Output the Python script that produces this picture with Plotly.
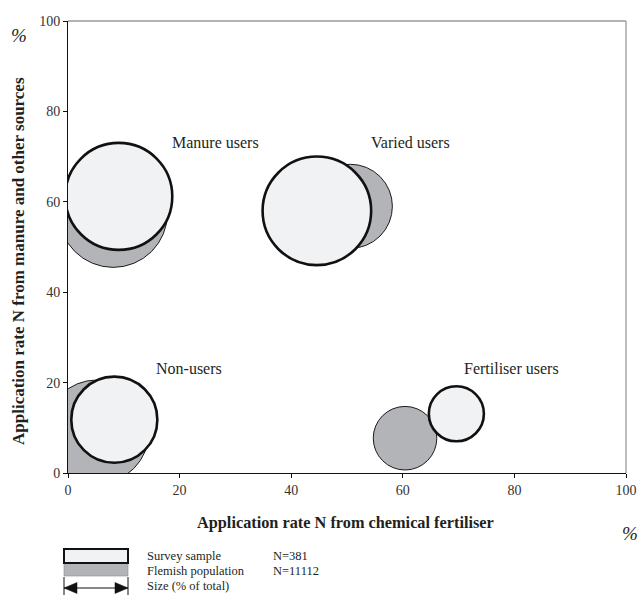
import plotly.graph_objects as go

# ---------------- data ----------------
groups = ["Manure users", "Varied users", "Non-users", "Fertiliser users"]

# Survey sample (N=381)
survey_x = [9.1, 44.6, 8.3, 69.6]      # % N from chemical fertiliser
survey_y = [61.2, 58.0, 11.8, 13.1]    # % N from manure and other sources
survey_pct = [34, 35, 22, 9]           # size (% of total)

# Flemish population (N=11112)
flemish_x = [8.1, 50.6, 5.2, 60.4]
flemish_y = [57.5, 59.0, 9.1, 7.7]
flemish_pct = [35, 21, 32, 12]

x_ticks = [0, 20, 40, 60, 80, 100]
y_ticks = [0, 20, 40, 60, 80, 100]

# label anchors for the group names (data coordinates)
label_x = [26.5, 61.3, 21.7, 79.4]
label_y = [73.2, 73.2, 23.2, 23.2]

# ---------------- layout helpers ----------------
# the page body margin is removed (post_script), figure fills the window
W, H = 638, 595
PL, PT, PW, PH = 68, 21, 558, 452          # plot area in screen pixels
L, T = PL, PT
R = W - L - PW
B = H - T - PH


def px(x):
    return (x - PL) / PW


def py(y):
    return (PT + PH - y) / PH


SERIF = "Liberation Serif, Times New Roman, serif"
TXT = "#231f20"
LIGHT = "#f1f2f4"
GRAY = "#b3b4b7"
SIZEREF = 0.00594

fig = go.Figure()

fig.add_trace(go.Scatter(
    x=flemish_x, y=flemish_y, mode="markers", name="Flemish population",
    marker=dict(size=flemish_pct, sizemode="area", sizeref=SIZEREF,
                color=GRAY, opacity=1, line=dict(color="#1a1a1a", width=1)),
    hoverinfo="x+y+text", text=groups, showlegend=False,
))
fig.add_trace(go.Scatter(
    x=survey_x, y=survey_y, mode="markers", name="Survey sample",
    marker=dict(size=survey_pct, sizemode="area", sizeref=SIZEREF,
                color=LIGHT, opacity=1, line=dict(color="#111111", width=2.6)),
    hoverinfo="x+y+text", text=groups, showlegend=False,
))

annotations = []
for g, lx, ly in zip(groups, label_x, label_y):
    annotations.append(dict(x=lx, y=ly, xref="x", yref="y", text=g, showarrow=False,
                            xanchor="center", yanchor="middle",
                            font=dict(family=SERIF, size=16, color=TXT)))


def paper_text(x, y, text, size, xanchor="center", angle=0, bold=False, italic=False):
    if bold:
        text = f"<b>{text}</b>"
    if italic:
        text = f"<i>{text}</i>"
    return dict(x=px(x), y=py(y), xref="paper", yref="paper", text=text,
                showarrow=False, xanchor=xanchor, yanchor="middle", textangle=angle,
                font=dict(family=SERIF, size=size, color=TXT))


# axis titles
annotations.append(paper_text(345, 522, "Application rate N from chemical fertiliser", 16.3, bold=True))
annotations.append(paper_text(18, 261, "Application rate N from manure and other sources", 17,
                              angle=-90, bold=True))
# percent signs
annotations.append(paper_text(19, 35, "%", 19, italic=True))
annotations.append(paper_text(630, 533, "%", 19, italic=True))

# key texts
for txt, yy in [("Survey sample", 556), ("Flemish population", 570.5), ("Size (% of total)", 585.5)]:
    annotations.append(paper_text(145, yy, txt, 12.5, xanchor="left"))
for txt, yy in [("N=381", 556), ("N=11112", 570.5)]:
    annotations.append(paper_text(271, yy, txt, 12.5, xanchor="left"))

shapes = [
    # top and right frame (gray)
    dict(type="line", xref="paper", yref="paper", x0=0, x1=1, y0=1, y1=1,
         line=dict(color="#9a9a9a", width=1.3)),
    dict(type="line", xref="paper", yref="paper", x0=1, x1=1, y0=0, y1=1,
         line=dict(color="#9a9a9a", width=1.3)),
    # key: gray box, light box
    dict(type="rect", xref="paper", yref="paper", x0=px(64), x1=px(128), y0=py(563), y1=py(576),
         fillcolor=GRAY, line=dict(color="#8a8a8a", width=0.6)),
    dict(type="rect", xref="paper", yref="paper", x0=px(64), x1=px(128), y0=py(549), y1=py(563),
         fillcolor=LIGHT, line=dict(color="#111111", width=2)),
    # size arrow
    dict(type="line", xref="paper", yref="paper", x0=px(64), x1=px(128), y0=py(588), y1=py(588),
         line=dict(color="#111111", width=1.2)),
    dict(type="line", xref="paper", yref="paper", x0=px(64), x1=px(64), y0=py(577), y1=py(595),
         line=dict(color="#111111", width=1)),
    dict(type="line", xref="paper", yref="paper", x0=px(128), x1=px(128), y0=py(577), y1=py(595),
         line=dict(color="#111111", width=1)),
    dict(type="path", xref="paper", yref="paper",
         path=f"M {px(64)},{py(588)} L {px(77)},{py(582.5)} L {px(77)},{py(593.5)} Z",
         fillcolor="#111111", line=dict(color="#111111", width=0.5)),
    dict(type="path", xref="paper", yref="paper",
         path=f"M {px(128)},{py(588)} L {px(115)},{py(582.5)} L {px(115)},{py(593.5)} Z",
         fillcolor="#111111", line=dict(color="#111111", width=0.5)),
]

axis_common = dict(range=[0, 100], showgrid=False, zeroline=False, showline=True,
                   linecolor="#111111", linewidth=1, ticks="outside", ticklen=4,
                   tickcolor="#111111", tickwidth=1,
                   tickfont=dict(family=SERIF, size=14, color="#333333"))

fig.update_layout(
    width=W, height=H,
    margin=dict(l=L, r=R, t=T, b=B, autoexpand=False),
    paper_bgcolor="white", plot_bgcolor="white",
    xaxis=dict(tickvals=x_ticks, **axis_common),
    yaxis=dict(tickvals=y_ticks, **axis_common),
    annotations=annotations, shapes=shapes,
    showlegend=False,
)

fig.write_html(
    "out.html",
    config={"displayModeBar": False},
    post_script="document.body.style.margin='0';"
                "document.documentElement.style.overflow='hidden';"
                "document.body.style.overflow='hidden';",
)
